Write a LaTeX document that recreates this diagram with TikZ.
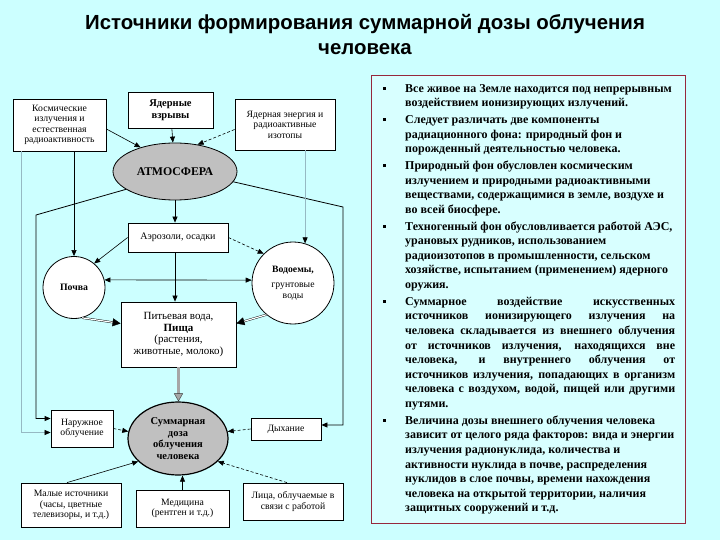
\documentclass[tikz,border=0pt]{standalone}
\usepackage{fontspec}
\setmainfont{Liberation Serif}
\newfontfamily\headfont{Liberation Sans}
\usepackage{tikz}
\usetikzlibrary{arrows.meta,shapes.geometric,calc}
\definecolor{sky}{RGB}{204,255,255}
\definecolor{pale}{RGB}{216,255,255}
\definecolor{rim}{RGB}{150,40,60}
\definecolor{wire}{RGB}{150,185,195}
\definecolor{cloud}{RGB}{192,192,192}
\newcommand\itemdot{\leavevmode\llap{\makebox[22pt][l]{\rule[2.5pt]{2.6pt}{2.6pt}}}}
\tikzset{
  src/.style={draw, thick, fill=white, align=center, inner sep=1pt,
              font=\fontsize{9.7}{10.5}\selectfont},
  hub/.style={ellipse, draw, thick, fill=cloud, align=center, inner sep=0pt,
              font=\bfseries\fontsize{10.5}{11.5}\selectfont},
  pool/.style={circle, draw, thick, fill=white, align=center, inner sep=0pt},
  link/.style={-{Triangle[length=6pt,width=5pt]}, semithick},
  dlink/.style={link, dash pattern=on 3pt off 2pt},
  lite/.style={link, draw=wire, -{Triangle[length=6pt,width=5pt,color=black]}},
  twin/.style={double, double distance=1.2pt, -{Triangle[length=8pt,width=8pt]}},
  fat/.style={draw=gray!40!black, double=gray!70, double distance=2.4pt,
              -{Triangle[length=8pt,width=9pt,fill=gray!70]}},
}

\begin{document}
\begin{tikzpicture}[x=1pt, y=-1pt]
  \useasboundingbox (0,0) rectangle (720,540);
  \fill[sky] (0,0) rectangle (720,540);

  % title
  \node[font=\headfont\bfseries\fontsize{20.4}{25}\selectfont, align=center] (title) at (365,35)
    {Источники формирования суммарной дозы облучения\\человека};

  % sources on top
  \node[src, minimum width=93pt, minimum height=52pt] (kosm) at (59.5,125)
    {Космические\\излучения и\\естественная\\радиоактивность};
  \node[src, minimum width=85pt, minimum height=36pt, font=\bfseries\fontsize{10.5}{12}\selectfont] (blast) at (170.5,110)
    {Ядерные\\взрывы};
  \node[src, minimum width=100pt, minimum height=51pt] (reactor) at (285,124.5)
    {Ядерная энергия и\\радиоактивные\\изотопы};
  \node[hub, minimum width=124pt, minimum height=57pt, font=\bfseries\fontsize{11.8}{13}\selectfont] (atm) at (175,171.5) {АТМОСФЕРА};

  % middle
  \node[src, minimum width=100pt, minimum height=29pt, font=\fontsize{10}{11}\selectfont] (aero) at (178,237.5) {Аэрозоли, осадки};
  \node[pool, minimum size=62pt, font=\bfseries\fontsize{9.8}{11}\selectfont] (soil) at (74,287.5) {Почва};
  \node[pool, minimum size=82pt, font=\fontsize{9.7}{10.5}\selectfont] (water) at (293,283)
    {\textbf{Водоемы,}\\[5pt]грунтовые\\воды};
  \node[src, minimum width=115pt, minimum height=65pt, font=\fontsize{11}{11.5}\selectfont] (food) at (178.5,334.5)
    {Питьевая вода,\\\textbf{Пища}\\(растения,\\животные, молоко)};

  % dose and its parts
  \node[hub, very thick, minimum width=100pt, minimum height=73pt] (dose) at (178,438.5)
    {Суммарная\\доза\\облучения\\человека};
  \node[src, minimum width=62pt, minimum height=37pt] (outer) at (82,428.5) {Наружное\\облучение};
  \node[src, minimum width=70pt, minimum height=22pt] (breath) at (286,429) {Дыхание};
  \node[src, minimum width=100pt, minimum height=44pt] (small) at (71,505)
    {Малые источники\\(часы, цветные\\телевизоры, и т.д.)};
  \node[src, minimum width=93pt, minimum height=37pt] (med) at (182.5,508.5)
    {Медицина\\(рентген и т.д.)};
  \node[src, minimum width=100pt, minimum height=37pt] (work) at (293,501.5)
    {Лица, облучаемые в\\связи с работой};

  \coordinate (lk) at (36,215);
  \coordinate (rk) at (343,207);

  % into the atmosphere
  \draw[link] (blast) -- (atm);
  \draw[link] ($(kosm.east)+(0,4)$) -- (atm.145);
  \draw[dlink] ($(reactor.west)+(0,5)$) -- (atm.50);
  \draw[link] (atm.south) -- (atm.south |- aero.north);
  \draw[link, thick] (atm.200) -- (lk) |- ($(outer.west)+(0,-10)$);
  \draw[link, thick] (atm.-10) -- (rk) |- ($(breath.east)+(0,-4)$);

  % straight from the sources
  \draw[link] (kosm.south -| soil.north) -- (soil.north);
  \draw[lite] ($(kosm.south west)+(9,0)$) |- ($(outer.west)+(0,4)$);
  \draw[lite] (reactor.south -| water.73) -- (water.73);

  % fallout
  \draw[link] (aero.west) -- (soil.50);
  \draw[dlink] (aero.east) -- (water.135);
  \draw[link] (aero.south -| atm.south) -- (food.north -| atm.south);
  \draw[{Triangle[length=6pt,width=5pt]}-{Triangle[length=6pt,width=5pt]}, semithick] (soil.14) -- (water.176);
  \draw[twin] (soil.-75) -- ($(food.west)+(0,-11)$);
  \draw[twin] (water.230) -- ($(food.east)+(0,-11)$);
  \draw[fat] (food.south) -- (food.south |- dose.north);

  % into the dose
  \draw[dlink] (outer.east) -- (dose.172);
  \draw[dlink] (breath.west) -- (dose.8);
  \draw[link] ($(small.north)+(-4,0)$) -- (dose.210);
  \draw[link] (med.north) -- (med.north |- dose.south);
  \draw[dlink] ($(work.north)+(-6,0)$) -- (dose.-30);

  % notes on the right
  \node[draw=rim, fill=pale, minimum width=314pt, minimum height=448pt, inner sep=0pt] (panel) at (528,299) {};
  \node[anchor=north west, text width=270pt, inner sep=0pt, align=justify,
        font=\bfseries\fontsize{12}{14.6}\selectfont] (facts) at (405,84) {%
    \setlength{\parskip}{2.2pt}\hyphenpenalty=10000
    \itemdot Все живое на Земле находится под непрерывным\\
    воздействием ионизирующих излучений.\par
    \itemdot Следует различать две компоненты\\
    радиационного фона: природный фон и\\
    порожденный деятельностью человека.\par
    \itemdot Природный фон обусловлен космическим\\
    излучением и природными радиоактивными\\
    веществами, содержащимися в земле, воздухе и\\
    во всей биосфере.\par
    \itemdot Техногенный фон обусловливается работой АЭС,\\
    урановых рудников, использованием\\
    радиоизотопов в промышленности, сельском\\
    хозяйстве, испытанием (применением) ядерного\\
    оружия.\par
    \itemdot Суммарное воздействие искусственных\linebreak
    источников ионизирующего излучения на\linebreak
    человека складывается из внешнего облучения\linebreak
    от источников излучения, находящихся вне\linebreak
    человека, и внутреннего облучения от\linebreak
    источников излучения, попадающих в организм\linebreak
    человека с воздухом, водой, пищей или другими\linebreak
    путями.\par
    \itemdot Величина дозы внешнего облучения человека\\
    зависит от целого ряда факторов: вида и энергии\\
    излучения радионуклида, количества и\\
    активности нуклида в почве, распределения\\
    нуклидов в слое почвы, времени нахождения\\
    человека на открытой территории, наличия\\
    защитных сооружений и т.д.};
\end{tikzpicture}
\end{document}
